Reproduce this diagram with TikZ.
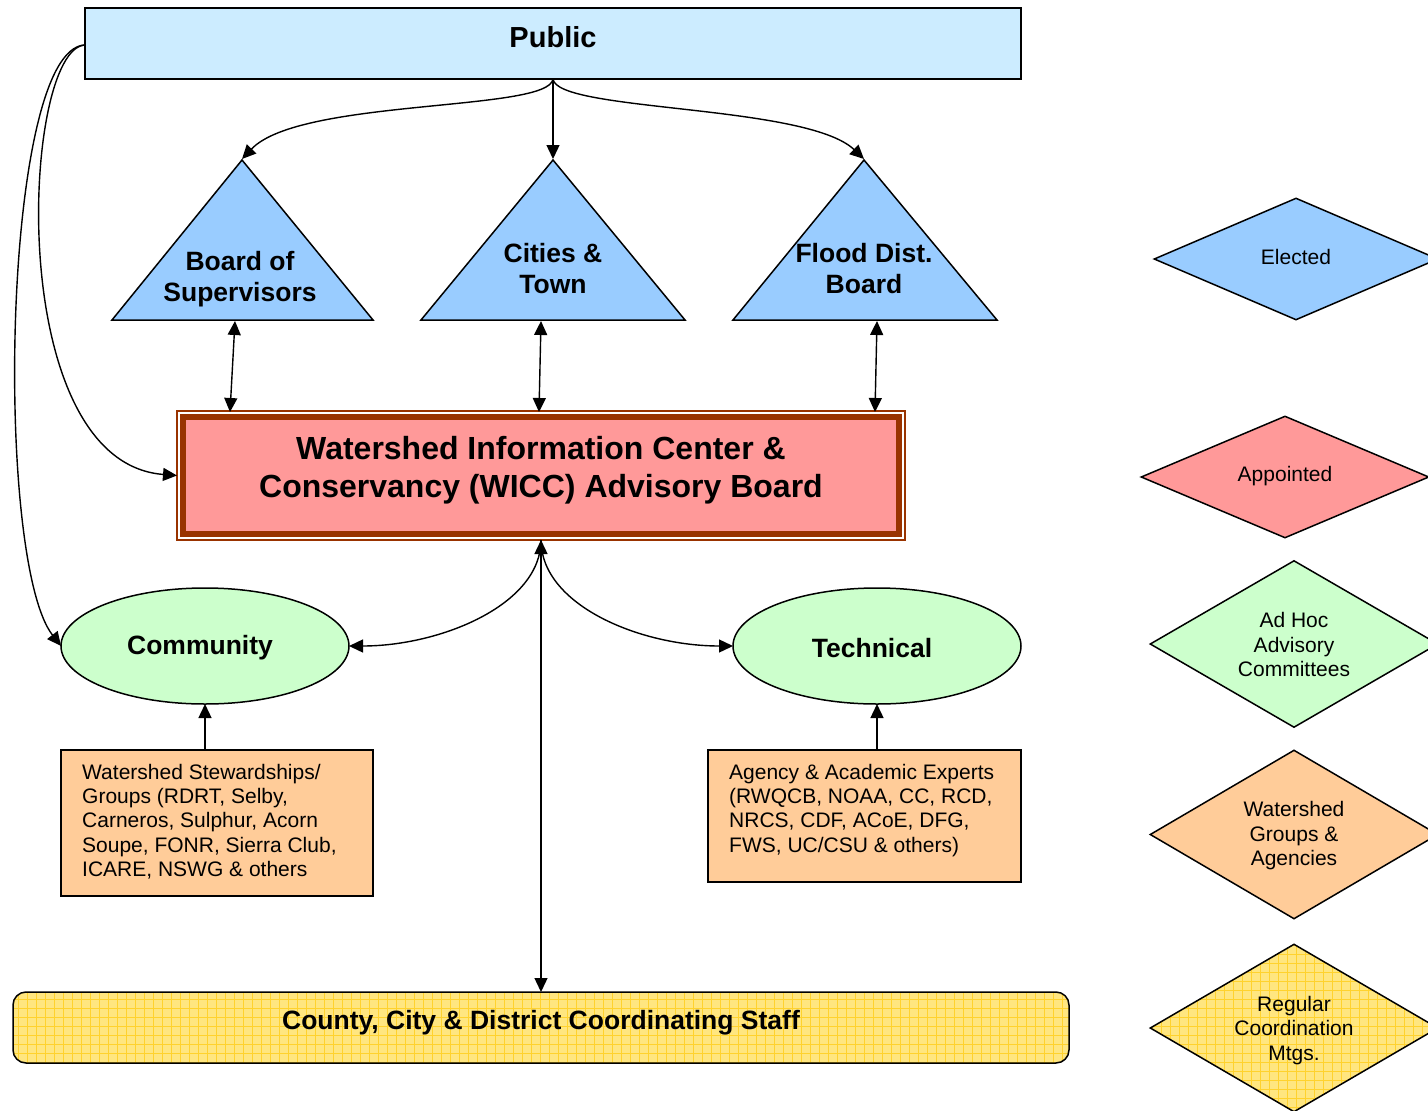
\documentclass[tikz,border=0pt]{standalone}
\usepackage{fontspec}
\setmainfont{Liberation Sans}
\usetikzlibrary{arrows.meta,shapes.geometric}
\definecolor{pubfill}{HTML}{CCECFF}
\definecolor{electfill}{HTML}{99CCFF}
\definecolor{apptfill}{HTML}{FF9999}
\definecolor{brownb}{HTML}{993300}
\definecolor{adhocfill}{HTML}{CCFFCC}
\definecolor{wsgfill}{HTML}{FFCC99}
\definecolor{ybase}{HTML}{FFE680}
\definecolor{yline}{HTML}{FFD22E}
\begin{document}
\begin{tikzpicture}[x=1pt,y=-1pt,
  shp/.style={draw=black, line width=1.5pt, inner sep=0pt},
  arr/.style={line width=1.4pt, -{Triangle[length=14pt,width=13pt]}},
  darr/.style={line width=1.4pt, {Triangle[length=14pt,width=13pt]}-{Triangle[length=14pt,width=13pt]}},
  bigtxt/.style={font=\fontsize{26.5}{31}\selectfont\bfseries, align=center, inner sep=0pt},
  legtxt/.style={font=\fontsize{21}{24.5}\selectfont, align=center, inner sep=0pt},
  boxtxt/.style={font=\fontsize{21}{24.25}\selectfont, align=left, inner sep=0pt, anchor=north west},
  ygrid/.style={draw=yline, line width=0.9pt}
]
\useasboundingbox (0,0) rectangle (1428,1111);
\clip (0,0) rectangle (1428,1111);

% ---------- Public ----------
\node[shp, fill=pubfill, minimum width=936, minimum height=71, outer sep=0pt] (public) at (553,43.5) {};
\node[font=\fontsize{29}{34}\selectfont\bfseries, inner sep=0pt] (publicT) at (553,37.5) {Public};

% ---------- Triangles ----------
\filldraw[fill=electfill, draw=black, line width=1.5pt, line join=miter]
  (242,160) -- (373,320) -- (112,320) -- cycle;
\filldraw[fill=electfill, draw=black, line width=1.5pt, line join=miter]
  (553,160) -- (685,320) -- (421,320) -- cycle;
\filldraw[fill=electfill, draw=black, line width=1.5pt, line join=miter]
  (864,160) -- (997,320) -- (733,320) -- cycle;
\coordinate (bosTop) at (242,159);
\coordinate (citTop) at (553,159);
\coordinate (fldTop) at (864,159);
\coordinate (bosBase) at (235,321);
\coordinate (citBase) at (541,321);
\coordinate (fldBase) at (877,321);
\node[bigtxt] (bos) at (240,279) {Board of\\Supervisors};
\node[bigtxt] (cit) at (553,269) {Cities \&\\Town};
\node[bigtxt] (fld) at (864,269) {Flood Dist.\\Board};

% ---------- WICC ----------
\node[draw=brownb, line width=6pt, fill=apptfill, minimum width=716, minimum height=117, inner sep=0pt, outer sep=0pt] (wicc) at (541,475.5) {};
\draw[brownb, line width=1.5pt] ([xshift=-6pt,yshift=6pt]wicc.north west) coordinate (wiccNW) rectangle ([xshift=6pt,yshift=-6pt]wicc.south east) coordinate (wiccSE);
\coordinate (wiccL) at (wiccNW |- wicc.west);
\coordinate (wiccB) at (wicc.south |- wiccSE);
\coordinate (wiccTbos) at (230,412);
\coordinate (wiccTcit) at (539,412);
\coordinate (wiccTfld) at (875,412);
\node[font=\fontsize{32}{38}\selectfont\bfseries, align=center, inner sep=0pt] (wiccT) at (541,470) {Watershed Information Center \&\\Conservancy (WICC) Advisory Board};

% ---------- Ellipses ----------
\node[shp, ellipse, fill=adhocfill, minimum width=288, minimum height=116, outer sep=0pt] (comm) at (205,646) {};
\node[bigtxt] (commT) at (200,648) {Community};
\node[shp, ellipse, fill=adhocfill, minimum width=288, minimum height=116, outer sep=0pt] (tech) at (877,646) {};
\node[bigtxt] (techT) at (872,648) {Technical};

% ---------- Boxes ----------
\node[shp, fill=wsgfill, minimum width=312, minimum height=146, outer sep=0pt] (boxL) at (217,823) {};
\node[boxtxt] (boxLT) at (82,764) {Watershed Stewardships/\\Groups (RDRT, Selby,\\Carneros, Sulphur, Acorn\\Soupe, FONR, Sierra Club,\\ICARE, NSWG \& others};
\node[shp, fill=wsgfill, minimum width=313, minimum height=132, outer sep=0pt] (boxR) at (864.5,816) {};
\node[boxtxt] (boxRT) at (729,764) {Agency \& Academic Experts\\(RWQCB, NOAA, CC, RCD,\\NRCS, CDF, ACoE, DFG,\\FWS, UC/CSU \& others)};

% ---------- Staff ----------
\begin{scope}
  \clip[rounded corners=13pt] (13,992) rectangle (1069,1063);
  \fill[ybase] (13,992) rectangle (1069,1063);
  \draw[ygrid] (10,990) grid[step=9pt] (1072,1066);
\end{scope}
\node[draw=black, line width=1.5pt, rounded corners=13pt, minimum width=1056, minimum height=71, inner sep=0pt, outer sep=0pt] (staff) at (541,1027.5) {};
\node[bigtxt] (staffT) at (541,1023) {County, City \& District Coordinating Staff};

% ---------- Legend ----------
\node[shp, diamond, fill=electfill, minimum width=284, minimum height=122] (legE) at (1296,259) {};
\node[legtxt] at (1296,257) {Elected};
\node[shp, diamond, fill=apptfill, minimum width=288, minimum height=122] (legA) at (1285,477) {};
\node[legtxt] at (1285,476) {Appointed};
\node[shp, diamond, fill=adhocfill, minimum width=288, minimum height=167] (legH) at (1294,644) {};
\node[legtxt] at (1294,644.5) {Ad Hoc\\Advisory\\Committees};
\node[shp, diamond, fill=wsgfill, minimum width=288, minimum height=169] (legW) at (1294,834.5) {};
\node[legtxt] at (1294,836) {Watershed\\Groups \&\\Agencies};
\begin{scope}
  \clip (1150,1028) -- (1294,944) -- (1438,1028) -- (1294,1112) -- cycle;
  \fill[ybase] (1140,940) rectangle (1440,1115);
  \draw[ygrid] (1140,940) grid[step=9pt] (1440,1115);
\end{scope}
\node[draw=black, line width=1.5pt, inner sep=0pt, diamond, minimum width=288, minimum height=168] (legR) at (1294,1028) {};
\node[legtxt] at (1294,1030.5) {Regular\\Coordination\\Mtgs.};

% ---------- Connectors ----------
\coordinate (pubL) at (85,45);
\draw[arr] (public.south) .. controls (549,112) and (300,98) .. (bosTop);
\draw[arr] (public.south) -- (citTop);
\draw[arr] (public.south) .. controls (557,112) and (806,104) .. (fldTop);

\draw[darr] (bosBase) -- (wiccTbos);
\draw[darr] (citBase) -- (wiccTcit);
\draw[darr] (fldBase) -- (wiccTfld);

\draw[arr] (pubL) .. controls (22,48) and (2,462) .. (wiccL);
\draw[arr] (pubL) .. controls (2,48) and (-6,560) .. (comm.west);

\draw[darr] (wiccB) -- (staff.north);
\draw[arr] (wiccB) .. controls (541,605) and (440,646) .. (comm.east);
\draw[arr] (wiccB) .. controls (541,605) and (640,646) .. (tech.west);

\draw[arr] (comm.south |- boxL.north) -- (comm.south);
\draw[arr] (tech.south |- boxR.north) -- (tech.south);
\end{tikzpicture}
\end{document}
